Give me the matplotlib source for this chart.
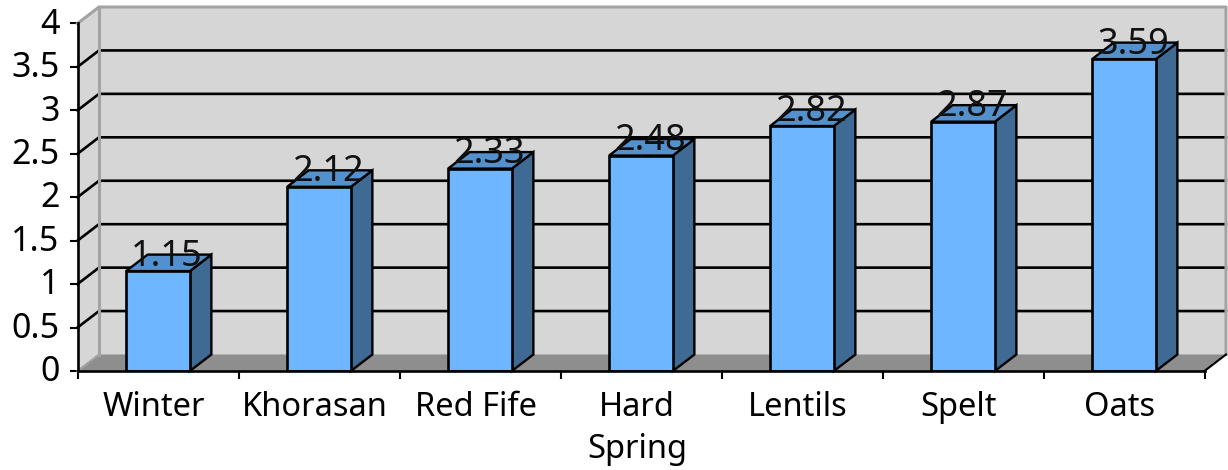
import matplotlib
matplotlib.use("Agg")
import matplotlib.pyplot as plt
from matplotlib.transforms import ScaledTranslation

plt.rcParams['font.family'] = ['Noto Sans', 'DejaVu Sans']

categories = ["Winter", "Khorasan", "Red Fife", "Hard\nSpring", "Lentils", "Spelt", "Oats"]
values = [1.15, 2.12, 2.33, 2.48, 2.82, 2.87, 3.59]
value_labels = ["1.15", "2.12", "2.33", "2.48", "2.82", "2.87", "3.59"]
yticks = [0, 0.5, 1, 1.5, 2, 2.5, 3, 3.5, 4]
ytick_labels = ["0", "0.5", "1", "1.5", "2", "2.5", "3", "3.5", "4"]

W, H = 1228, 470
fig = plt.figure(figsize=(W / 100, H / 100), dpi=100)
# front plane of the fake 3d box, everything else hangs off it
left, right, top, bottom = 77.5, 1204.5, 23.5, 371
ax = fig.add_axes([left / W, 1 - bottom / H, (right - left) / W, (bottom - top) / H])
ax.set_xlim(0, 7)
ax.set_ylim(0, 4)
ax.patch.set_visible(False)

n = len(categories)
dx = 21.5 / ((right - left) / n)  # depth offset in data units
dy = 16.5 / ((bottom - top) / 4)
bar_w = 0.396

wall = "#d6d6d6"
wall_edge = "#a3a3a3"
floor = "#8e8e8e"
front = "#6eb6ff"
side = "#3f6a94"
cap = "#5490cb"

# walls and floor
ax.fill([0, dx, dx, 0], [0, dy, 4 + dy, 4], color=wall, lw=0, zorder=1, clip_on=False)
ax.fill([dx, 7 + dx, 7 + dx, dx], [dy, dy, 4 + dy, 4 + dy], color=wall, lw=0, zorder=1, clip_on=False)
ax.fill([0, 7, 7 + dx, dx], [0, 0, dy, dy], color=floor, lw=0, zorder=2, clip_on=False)

# grid on back wall and left wall
for t in yticks[1:-1]:
    ax.plot([0, dx, 7 + dx], [t, t + dy, t + dy], color="black", lw=1.9, zorder=3,
            clip_on=False, solid_joinstyle="miter")
ax.plot([0, dx, 7 + dx, 7 + dx], [4, 4 + dy, 4 + dy, dy], color=wall_edge, lw=2.2, zorder=3, clip_on=False)
ax.plot([dx, dx], [dy, 4 + dy], color=wall_edge, lw=2.2, zorder=3, clip_on=False)
ax.plot([0, dx], [0, dy], color=wall_edge, lw=1.5, zorder=3, clip_on=False)
ax.plot([7, 7 + dx], [0, dy], color="black", lw=1.5, zorder=3, clip_on=False)

# bars
xpos = [i + 0.5 for i in range(n)]
for x, v in zip(xpos, values):
    x0 = x - bar_w / 2
    x1 = x + bar_w / 2
    ax.fill([x1, x1 + dx, x1 + dx, x1], [0, dy, v + dy, v], facecolor=side, edgecolor="black",
            lw=1.7, zorder=4, clip_on=False)
    ax.fill([x0, x1, x1 + dx, x0 + dx], [v, v, v + dy, v + dy], facecolor=cap, edgecolor="black",
            lw=1.7, zorder=4, clip_on=False)
ax.bar(xpos, values, width=bar_w, color=front, edgecolor="black", linewidth=1.9, zorder=5)

# data labels sit on top of the caps
for x, v, lab in zip(xpos, values, value_labels):
    ax.text(x + 0.056, v + 0.063, lab, ha="center", va="baseline", fontsize=26,
            color="#111111", zorder=6, clip_on=False)

ax.set_yticks(yticks)
ax.set_yticklabels(ytick_labels)
ax.set_xticks(range(n + 1))
ax.set_xticklabels([])
ax.set_xticks([i + 0.475 for i in range(n)], minor=True)
ax.set_xticklabels(categories, minor=True, fontsize=23.5, linespacing=1.36)
ax.tick_params(axis="x", which="minor", length=0, pad=14.5)
ax.tick_params(axis="x", which="major", length=5.5, width=1.5)
ax.tick_params(axis="y", length=6, width=1.5, labelsize=24.5, pad=7)

# labels ride a little above their ticks in the original
up = ScaledTranslation(0, 2 / 72, fig.dpi_scale_trans)
for lab in ax.get_yticklabels():
    lab.set_transform(lab.get_transform() + up)

for s in ["top", "right"]:
    ax.spines[s].set_visible(False)
for s in ["left", "bottom"]:
    ax.spines[s].set_linewidth(1.9)
    ax.spines[s].set_zorder(7)

fig.savefig("out.png", dpi=100)
